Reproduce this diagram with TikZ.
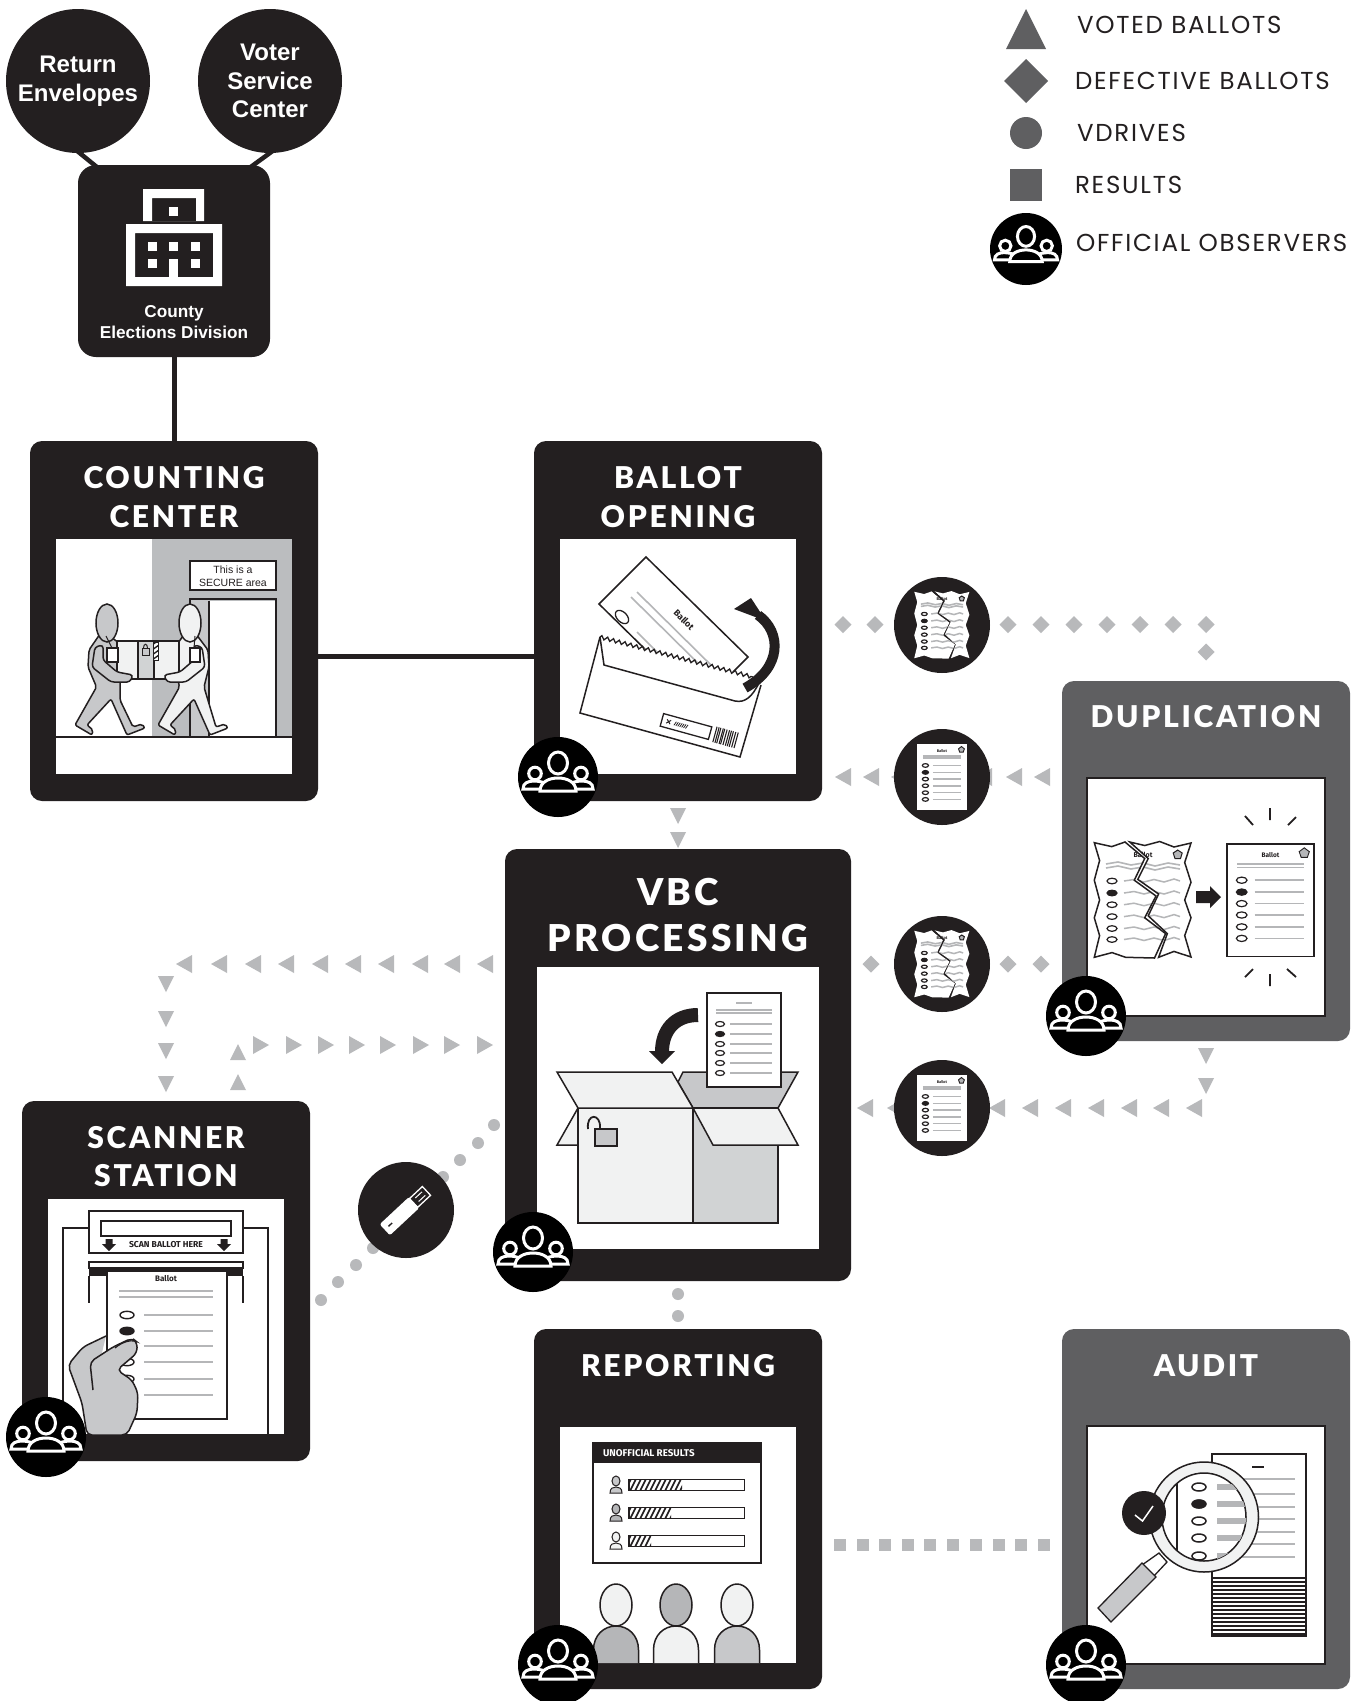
\documentclass[tikz,border=0pt]{standalone}
\usepackage{fontspec}
\usetikzlibrary{decorations.pathmorphing}
\setmainfont{Liberation Sans}
\newfontfamily\titlef[LetterSpace=9,BoldFont={Lato Black}]{Lato}
\newfontfamily\legf[LetterSpace=7.2]{Poppins}
\newfontfamily\firaf{Fira Sans}
\definecolor{ink}{HTML}{231F20}
\definecolor{slate}{HTML}{5F5F61}
\definecolor{mkgrey}{HTML}{B8B9BB}
\definecolor{gA}{HTML}{F1F2F2}
\definecolor{gB}{HTML}{C7C8CA}
\definecolor{gC}{HTML}{D1D3D4}
\definecolor{gD}{HTML}{B5B6B8}
\definecolor{gE}{HTML}{BBBDBF}
\def\tornL{(-48.7,-57.3) -- (-31.3,-53.4) -- (-18,-58) -- (1.7,-41.5) -- (-8.7,-19.8) -- (13,-4) -- (1.7,17.8) -- (22.6,33.6) -- (11.5,58) -- (-17.4,57.3) -- (-31,52.6) -- (-48.7,57.3) -- (-43.4,35.6) -- (-48.7,17.8) -- (-43.4,0) -- (-48.7,-19.8) -- (-43.4,-39.5) -- cycle}
\def\tornR{(-13.2,-58) -- (1.7,-54.5) -- (16.7,-58.5) -- (31,-53) -- (48,-57) -- (41.7,-37.5) -- (48,-17.8) -- (41.7,0) -- (48,17.8) -- (41.7,35.6) -- (48,57) -- (31,51.4) -- (15.6,57.3) -- (24.3,33.6) -- (5.2,15.8) -- (15.6,-6) -- (-5.2,-20.6) -- (5.2,-41.5) -- cycle}
\def\tornword{\node[font=\firaf\bfseries\fontsize{7}{7}\selectfont,text=ink,transform shape] (tornword) at (0,-45) {Ballot};}
\def\torngap{(-18,-58) -- (1.7,-41.5) -- (5.2,-41.5) -- (-13.2,-58) -- cycle}
\def\tornstuff{%
  \draw[gD,line width=1.6] (-37,-36) -- (-25,-38) -- (-12,-35) -- (0,-37) -- (12,-34) -- (25,-37) -- (37,-35);
  \draw[gD,line width=1.6] (-37,-32) -- (-25,-34) -- (-12,-31) -- (0,-33) -- (12,-30) -- (25,-33) -- (37,-31);
  \foreach \oy in {-19,-7,4.7,16.6,28.5,39.5} {
    \draw[gD,line width=1.5] (-19,\oy) -- (-9,{\oy-1.5}) -- (1,{\oy+1}) -- (11,{\oy-1.5}) -- (21,{\oy+1}) -- (31,{\oy-2}) -- (37,\oy);
    \draw[ink,line width=1.2,fill=white] (-31,\oy) ellipse [x radius=5,y radius=2.8];
  }
  \fill[ink] (-31,-7) ellipse [x radius=5,y radius=2.8];
  \draw[ink,line width=1,fill=gD] (34.7,-50) -- (39.2,-47) -- (37.5,-41.5) -- (32,-41.5) -- (30.2,-47) -- cycle;
}
\def\balstuff{%
  \draw[gD,line width=1.6] (-28,-30) -- (28,-30) (-28,-27) -- (28,-27);
  \foreach \oy in {-16.5,-6.6,3,12.5,22.4,32} {
    \draw[gD,line width=1.5] (-13.5,\oy) -- (28,\oy);
    \draw[ink,line width=1.2,fill=white] (-24.4,\oy) ellipse [x radius=4.5,y radius=2.6];
  }
  \fill[ink] (-24.4,-6.6) ellipse [x radius=4.5,y radius=2.6];
}
\tikzset{
  x=1pt,y=-1pt,
  every node/.style={inner sep=0pt,outer sep=0pt},
  blackpanel/.style={fill=ink,rounded corners=12pt},
  greypanel/.style={fill=slate,rounded corners=12pt},
  imgbox/.style={fill=white},
  imgline/.style={fill=white,draw=ink,line width=2.2},
  title/.style={text=white,font=\titlef\bfseries\fontsize{30}{30}\selectfont},
  bigtitle/.style={text=white,font=\titlef\bfseries\fontsize{37}{37}\selectfont},
  legtext/.style={anchor=west,text=ink,font=\legf\fontsize{24.5}{24.5}\selectfont},
  wire/.style={draw=ink,line width=5},
  disc/.style={circle,fill=ink,minimum size=96pt},
  bigdisc/.style={circle,fill=ink,minimum size=144pt,text=white,align=center,font=\bfseries\fontsize{24}{28.5}\selectfont},
  obs/.style={circle,fill=black,minimum size=80pt},
  obsleg/.style={circle,fill=black,minimum size=72pt},
  hl/.style={draw=ink,line width=1.5},
  obsicon/.pic={
    \draw[white,line width=3] (0,-14) ellipse [x radius=9.5,y radius=11];
    \draw[white,line width=3] (-23,-3.5) circle [radius=6.3];
    \draw[white,line width=3] (23,-3.5) circle [radius=6.3];
    \draw[white,line width=3] (-17,12) -- (-35,12) .. controls (-35,6) and (-30,4) .. (-24,4) .. controls (-20,4) and (-16,5) .. (-13,6);
    \draw[white,line width=3] (17,12) -- (35,12) .. controls (35,6) and (30,4) .. (24,4) .. controls (20,4) and (16,5) .. (13,6);
    \draw[white,line width=3,fill=black] (-18,14) .. controls (-18,5) and (-9,1) .. (0,1) .. controls (9,1) and (18,5) .. (18,14) -- cycle;
  },
  mkleft/.pic={\fill[mkgrey] (-8,0) -- (8,-9) -- (8,9) -- cycle;},
  mkright/.pic={\fill[mkgrey] (8,0) -- (-8,-9) -- (-8,9) -- cycle;},
  mkdown/.pic={\fill[mkgrey] (0,8) -- (-8,-8) -- (8,-8) -- cycle;},
  mkup/.pic={\fill[mkgrey] (0,-8) -- (-8,8) -- (8,8) -- cycle;},
  mkdiamond/.pic={\fill[mkgrey] (-8.5,0) -- (0,-8.5) -- (8.5,0) -- (0,8.5) -- cycle;},
  mkdot/.pic={\fill[mkgrey] (0,0) circle [radius=6];},
  mksquare/.pic={\fill[mkgrey] (-6.2,-6) rectangle (6.2,6);},
  plainballot/.pic={
    \fill[white] (-37,-47) rectangle (37,47);
    \balstuff
    \node[font=\firaf\bfseries\fontsize{5.5}{5.5}\selectfont,text=ink,transform shape] (balword) at (0,-37.5) {Ballot};
    \draw[ink,line width=.9,fill=gD] (28.6,-43.5) -- (32.9,-40.3) -- (31.2,-35.5) -- (26,-35.5) -- (24.3,-40.3) -- cycle;
  },
  tornplain/.pic={
    \fill[white] \tornL; \fill[white] \tornR;
    \begin{scope}\clip \tornL; \tornstuff \end{scope}
    \begin{scope}\clip \tornR; \tornstuff \end{scope}
    \tornword
    \fill[ink] \torngap;
  },
  tornlined/.pic={
    \fill[white] \tornL; \fill[white] \tornR;
    \begin{scope}\clip \tornL; \tornstuff \end{scope}
    \begin{scope}\clip \tornR; \tornstuff \end{scope}
    \tornword
    \fill[white] \torngap;
    \draw[ink,line width=1.5,line join=miter] \tornL;
    \draw[ink,line width=1.5,line join=miter] \tornR;
  },
}
\begin{document}
\begin{tikzpicture}
\useasboundingbox (0,0) rectangle (1365,1701);
\fill[white] (0,0) rectangle (1365,1701);

% ---------- panels ----------
\node[blackpanel,minimum width=288pt,minimum height=360pt] (counting) at (174,621) {};
\node[blackpanel,minimum width=288pt,minimum height=360pt] (ballotopen) at (678,621) {};
\node[greypanel,minimum width=288pt,minimum height=360pt] (duplication) at (1206,861) {};
\node[blackpanel,minimum width=346pt,minimum height=432pt] (vbc) at (678,1065) {};
\node[blackpanel,minimum width=288pt,minimum height=360pt] (scanner) at (166,1281) {};
\node[blackpanel,minimum width=288pt,minimum height=360pt] (reporting) at (678,1509) {};
\node[greypanel,minimum width=288pt,minimum height=360pt] (audit) at (1206,1509) {};

% ---------- top part ----------
\node[bigdisc,minimum size=144pt] (returnenv) at (78,81) {Return\\Envelopes};
\node[bigdisc,minimum size=144pt] (votersc) at (270,81) {Voter\\Service\\Center};
\node[fill=ink,rounded corners=18pt,minimum width=192pt,minimum height=192pt] (county) at (174,261) {};
\draw[draw=ink,line width=4.5] ([xshift=-2pt,yshift=3pt]returnenv.south) -- ([xshift=25pt,yshift=-7pt]county.north west);
\draw[draw=ink,line width=4.5] ([xshift=4pt,yshift=3pt]votersc.south) -- ([xshift=-24pt,yshift=-5.4pt]county.north east);
\draw[wire] (county.south) -- (counting.north);
% building
\fill[white,even odd rule] (143,189) rectangle (204,221) (152,198) rectangle (196,221);
\fill[white] (169,207) rectangle (178,216);
\fill[white,even odd rule] (126,224) rectangle (222,286) (135,233) rectangle (213,277);
\foreach \wx in {148,169,191} \fill[white] (\wx,242) rectangle ++(9,9);
\foreach \wx in {148,191} \fill[white] (\wx,259) rectangle ++(9,9);
\fill[white] (169,259) rectangle (178,286);
\node[text=white,align=center,font=\bfseries\fontsize{17.2}{20.5}\selectfont] (countylabel) at (174,322) {County\\Elections Division};

% ---------- connectors ----------
\node[imgbox,minimum width=236pt,minimum height=235pt] (countimg) at (174,656.5) {};
\node[imgbox,minimum width=236pt,minimum height=235pt] (openimg) at (678,656.5) {};
\draw[wire] (countimg -| counting.east) -- (openimg -| ballotopen.west);

% ---------- marker chains ----------
\foreach \mx in {843,875,1008,1041,1074,1107,1140,1173,1206} \pic at (\mx,624.5) {mkdiamond};
\pic at (1206,652) {mkdiamond};
\foreach \mx in {843,871,899,984,1014,1042} \pic at (\mx,777) {mkleft};
\foreach \mx in {871,1008,1041} \pic at (\mx,964) {mkdiamond};
\foreach \my in {1056,1086} \pic at (1206,\my) {mkdown};
\foreach \mx in {865,895,997,1030,1063,1096,1129,1161,1194} \pic at (\mx,1108) {mkleft};
\foreach \my in {816,840} \pic at (678,\my) {mkdown};
\foreach \mx in {184,219,253,286,320,353,386,420,452,485} \pic at (\mx,964) {mkleft};
\foreach \my in {984,1019,1051,1084} \pic at (166,\my) {mkdown};
\foreach \my in {1052,1082} \pic at (238,\my) {mkup};
\foreach \mx in {261,294,326,357,388,421,452,485} \pic at (\mx,1045) {mkright};
\pic at (321,1300) {mkdot}; \pic at (338,1282) {mkdot}; \pic at (356,1265) {mkdot}; \pic at (373,1248) {mkdot};
\pic at (443,1177) {mkdot}; \pic at (460,1160) {mkdot}; \pic at (478,1143) {mkdot}; \pic at (494,1125) {mkdot};
\foreach \my in {1294,1316} \pic at (678,\my) {mkdot};
\foreach \mx in {840,863,885,908,930,953,976,999,1021,1044} \pic at (\mx,1545) {mksquare};

% ---------- titles ----------
\node[title] (t1) at (174,478) {COUNTING};
\node[title] (t2) at (174,516.5) {CENTER};
\node[title] (t3) at (678,478) {BALLOT};
\node[title] (t4) at (678,516.5) {OPENING};
\node[title] (t5) at (1206,717) {DUPLICATION};
\node[bigtitle] (t6) at (678,892) {VBC};
\node[bigtitle] (t7) at (678,938) {PROCESSING};
\node[title] (t8) at (166,1138) {SCANNER};
\node[title] (t9) at (166,1176) {STATION};
\node[title] (t10) at (678,1366) {REPORTING};
\node[title] (t11) at (1206,1366) {AUDIT};

% ---------- counting center illustration ----------
\fill[gE] (152,539) rectangle (292,737);
\fill[gB] (190,599) rectangle (209,737);
\fill[white] (209,601) rectangle (275,737);
\draw[ink,line width=1.3] (276,737) -- (276,599) -- (190,599) -- (190,737);
\draw[ink,line width=1.3] (209,601) -- (209,737);
\node[draw=ink,line width=1.3,fill=white,minimum width=86pt,minimum height=29pt] (sign) at (233,575.5) {};
\node[text=ink,font=\fontsize{10.5}{12.5}\selectfont,align=center] (signtext) at (233,576) {This is a\\SECURE area};
\draw[ink,line width=2.2] (56,737) -- (292,737);
% left person
\draw[hl,fill=gB,rounded corners=2pt] (100,634) -- (89,650) -- (88,667) -- (96.5,687) -- (75,725) -- (92,735) -- (93,730) -- (87,725) -- (111,699) -- (127,735) -- (145,728) -- (142,724) -- (133,727) -- (120,700) -- (120,680) -- (119,643) -- (111,637) -- cycle;
\draw[hl,fill=gB] (107,623) ellipse [x radius=11,y radius=19];
% right person
\draw[hl,fill=gA,rounded corners=2pt] (183,636) -- (196,634) -- (208,650) -- (209,667) -- (204,687) -- (216,727) -- (225,724) -- (228,728) -- (210,735) -- (194,699) -- (170,725) -- (176,730) -- (175,735) -- (158,725) -- (179.5,687) -- (178,680) -- (178,643) -- cycle;
\draw[hl,fill=gA] (190,623) ellipse [x radius=11,y radius=19];
% box
\draw[hl,fill=gA] (117,641) rectangle (179,679);
\draw[hl,fill=gC] (138,641) rectangle (154,679);
\draw[ink,line width=1,fill=gB] (142,648) rectangle (149,655);
\draw[ink,line width=1] (143.5,648) .. controls (143.5,643) and (147.5,643) .. (147.5,648);
\fill[white] (153,642) rectangle (158,660);
\begin{scope}
 \clip (153,642) rectangle (158,660);
 \foreach \hy in {640,645,650,655,660,665} \draw[ink,line width=1.4] (152,\hy) -- (159,{\hy-5});
\end{scope}
\draw[ink,line width=1] (153,642) rectangle (158,660);
% arms
\draw[hl,fill=gB,rounded corners=3pt] (95,647) -- (92,667) -- (111,682) -- (130,682) -- (133,675) -- (117,672) -- (103,660) -- (103,645) -- cycle;
\draw[hl,fill=gA,rounded corners=3pt] (202,647) -- (205,667) -- (186,682) -- (167,682) -- (164,675) -- (180,672) -- (194,660) -- (194,645) -- cycle;
\draw[ink,line width=1] (106,636) -- (112,648) (195,636) -- (194,648);
\draw[ink,line width=1.2,fill=white] (107,648) rectangle (118,662);
\draw[ink,line width=1.2,fill=white] (190,648) rectangle (200,662);

% ---------- ballot opening illustration ----------
\draw[ink,line width=1.5,fill=white] (646,557) -- (748,657) -- (701,704) -- (599,604) -- cycle;
\draw[gD,line width=1.6] (631,597) -- (710,675) (637,592) -- (716,670) (637,632) -- (669,664);
\node[rotate=-45,font=\firaf\bfseries\fontsize{9}{9}\selectfont,text=ink] (openword) at (684,620) {Ballot};
\draw[ink,line width=1.3,rotate around={-45:(622,617)}] (622,617) ellipse [x radius=8,y radius=5];
\fill[white] (600,637) -- (753,677) -- (761,685) -- (740,757) -- (580,713) -- cycle;
\draw[ink,line width=1.5] (600,637) -- (580,713) -- (740,757) -- (761,685);
\draw[ink,line width=1.5] (600,637) -- (604,665) -- (735,701) .. controls (745,703) and (752,697) .. (759,683);
\draw[ink,line width=1.3,decorate,decoration={zigzag,segment length=6pt,amplitude=1.8pt}] (600,637) -- (753,677);
\draw[ink,line width=10] (745,688) .. controls (782,668) and (782,632) .. (758,615);
\fill[ink] (751,598) -- (734,609) -- (766,621) -- cycle;
\begin{scope}[shift={(686,726.5)},rotate=-15.4]
 \draw[ink,line width=1.3,fill=white] (-25,-6.5) rectangle (25,6.5);
 \draw[ink,line width=1] (-20,-2) -- (-16,2) (-20,2) -- (-16,-2);
 \foreach \sx in {-12,-10,-8,-6,-4,-2,0} \draw[ink,line width=.8] (\sx,2) -- ({\sx+1.5},-2);
 \foreach \sx in {30,32.2,34,36.5,38,40.5,43,45,47,49.5,52} \draw[ink,line width=1.1] (\sx,-8) -- (\sx,8);
\end{scope}

% ---------- duplication illustration ----------
\node[imgline,minimum width=238pt,minimum height=238pt] (dupimg) at (1206,897) {};
\pic at (1143,900) {tornlined};
\fill[ink] (1196,891) -- (1210,891) -- (1210,886) -- (1221,897) -- (1210,908) -- (1210,903) -- (1196,903) -- cycle;
\pic[xscale=1.18,yscale=1.2] at (1270.5,900) {plainballot};
\draw[ink,line width=1.8] (1226.9,843.6) rectangle (1314.1,956.4);
\draw[ink,line width=1.8] (1270,808) -- (1270,820) (1245,816) -- (1253,825) (1296,817) -- (1288,825);
\draw[ink,line width=1.8] (1270,974) -- (1270,986) (1253,969) -- (1245,977) (1287,969) -- (1296,977);

% ---------- vbc illustration ----------
\node[imgbox,minimum width=282pt,minimum height=282pt] (vbcimg) at (678,1108) {};
\draw[ink,line width=1.5,fill=gB] (678,1082) -- (683,1072) -- (798,1072) -- (778,1108) -- (693,1108) -- cycle;
\begin{scope}[shift={(744,1040)}]
 \draw[ink,line width=1.8,fill=white] (-37,-47) rectangle (37,47);
 \draw[gD,line width=1.6] (-8,-37) -- (8,-37) (-28,-30) -- (28,-30) (-28,-27) -- (28,-27);
 \foreach \oy in {-16,-6,4,13,23,33} {
  \draw[gD,line width=1.6] (-14,\oy) -- (28,\oy);
  \draw[ink,line width=1.2,fill=white] (-24,\oy) ellipse [x radius=4.5,y radius=2.5];
 }
 \fill[ink] (-24,-6) ellipse [x radius=4.5,y radius=2.5];
\end{scope}
\draw[hl,fill=gA] (578,1108) -- (557,1145) -- (578,1145) -- cycle;
\draw[hl,fill=gA] (578,1108) rectangle (693,1223);
\draw[hl,fill=gC] (693,1108) rectangle (778,1223);
\draw[hl,fill=gA] (557,1072) -- (672,1072) -- (693,1108) -- (578,1108) -- cycle;
\draw[hl,fill=gA] (693,1108) -- (778,1108) -- (798,1145) -- (713,1145) -- cycle;
\draw[ink,line width=1.8,fill=gB] (595,1129) rectangle (617,1146);
\draw[ink,line width=1.8] (588,1129) .. controls (586,1113) and (601,1113) .. (600,1128);
\draw[ink,line width=14] (698,1015) .. controls (675,1015) and (662,1030) .. (662,1052);
\fill[ink] (662,1064) -- (649,1051) -- (675,1051) -- cycle;

% ---------- scanner illustration ----------
\node[imgbox,minimum width=236pt,minimum height=235pt] (scanimg) at (166,1316.5) {};
\draw[ink,line width=1.5] (63,1434) -- (63,1228) -- (268,1228) -- (268,1434);
\draw[ink,line width=1.5,fill=white] (89,1211) rectangle (243,1253);
\draw[ink,line width=2,fill=white] (101,1221) rectangle (231,1236);
\foreach \ax in {109,224} \fill[ink] (\ax-3.5,1239) -- (\ax+3.5,1239) -- (\ax+3.5,1244) -- (\ax+7,1244) -- (\ax,1251) -- (\ax-7,1244) -- (\ax-3.5,1244) -- cycle;
\node[font=\firaf\bfseries\fontsize{8.6}{8.6}\selectfont,text=ink] (scantext) at (166,1245) {SCAN BALLOT HERE};
\draw[ink,line width=1.5,fill=white] (89,1262) rectangle (243,1268);
\fill[ink] (89,1268) rectangle (243,1276);
\draw[ink,line width=1.5] (89,1276) -- (89,1303) (243,1276) -- (243,1303);
\draw[ink,line width=1.5,fill=white] (107,1271) rectangle (227,1419);
\node[font=\firaf\bfseries\fontsize{8}{8}\selectfont,text=ink] (scanword) at (166,1279) {Ballot};
\draw[gD,line width=2] (119,1291) -- (213,1291) (119,1297) -- (213,1297);
\foreach \oy in {1315,1331,1346,1362,1379,1395} {
  \draw[gD,line width=2] (144,\oy) -- (213,\oy);
  \draw[ink,line width=1.4,fill=white] (127,\oy) ellipse [x radius=7,y radius=3.7];
}
\fill[ink] (127,1331) ellipse [x radius=7,y radius=3.7];
\draw[ink,line width=1.5,fill=gB,rounded corners=5pt] (106,1336) -- (83,1347) -- (68,1365) -- (82,1403) -- (87,1435) -- (127,1435) -- (137,1413) -- (138,1393) -- (132,1380) -- (117,1370) -- (137,1353) -- (137,1342) -- (132,1338) -- (113,1347) -- (90,1362) -- (93,1390);
\draw[ink,line width=1.2] (115,1348) .. controls (122,1342) and (130,1340) .. (135,1341);

% ---------- reporting illustration ----------
\node[imgbox,minimum width=236pt,minimum height=236pt] (repimg) at (678,1545) {};
\draw[ink,line width=1.6,fill=white] (593,1443) rectangle (761,1563);
\fill[ink] (593,1443) rectangle (761,1463);
\node[anchor=west,text=white,font=\firaf\bfseries\fontsize{9.8}{9.8}\selectfont] (resulthead) at (603,1453) {UNOFFICIAL RESULTS};
\foreach \ry/\rx/\rc in {1485/682/gB,1513/671/gD,1541/651/gA} {
  \draw[ink,line width=1,fill=\rc] (616,\ry-4) ellipse [x radius=4,y radius=5];
  \draw[ink,line width=1,fill=\rc] (610,\ry+8) .. controls (610,\ry+3) and (613,\ry+2) .. (616,\ry+2) .. controls (619,\ry+2) and (622,\ry+3) .. (622,\ry+8) -- cycle;
  \begin{scope}
   \clip (629,\ry-5) rectangle (\rx,\ry+5);
   \foreach \hx in {625,630,...,690} \draw[ink,line width=1.6] (\hx,\ry+6) -- (\hx+6,\ry-6);
  \end{scope}
  \draw[ink,line width=1.8] (629,\ry-5.5) rectangle (744.5,\ry+5.5);
}
\foreach \px/\hc/\bc in {616/gA/gD,676/gD/gA,737/gA/gB} {
  \draw[hl,fill=\bc] (\px-22.5,1663) -- (\px-22.5,1650) .. controls (\px-22.5,1635) and (\px-12,1626) .. (\px,1626) .. controls (\px+12,1626) and (\px+22.5,1635) .. (\px+22.5,1650) -- (\px+22.5,1663);
  \draw[hl,fill=\hc] (\px,1605) ellipse [x radius=16,y radius=21];
}

% ---------- audit illustration ----------
\node[imgline,minimum width=238pt,minimum height=238pt] (audimg) at (1206,1545) {};
\draw[ink,line width=1.5,fill=white] (1212,1454) rectangle (1306,1636);
\draw[ink,line width=2.2] (1252,1467) -- (1264,1467);
\foreach \ly in {1479,1494,1507,1519,1532,1544,1557} \draw[gD,line width=2] (1217,\ly) -- (1295,\ly);
\foreach \ly in {1578,1582,...,1634} \draw[ink,line width=1.7] (1212,\ly) -- (1306,\ly);
\draw[ink,line width=1.3,fill=white] (1159,1553) -- (1167,1562) -- (1153,1577) -- (1142,1565) -- cycle;
\draw[ink,line width=1.3,fill=gB] (1142,1563) -- (1156,1577) -- (1111,1622) -- (1098,1608) -- cycle;
\draw[ink,line width=1.5,fill=gA] (1204,1517) ellipse [x radius=54.5,y radius=55];
\draw[ink,line width=1.5,fill=white] (1204,1517) ellipse [x radius=42,y radius=44];
\begin{scope}
 \clip (1204,1517) ellipse [x radius=42,y radius=44];
 \draw[ink,line width=1.3] (1177,1470) -- (1177,1565);
 \foreach \oy in {1487,1504,1521,1538,1556} {
   \fill[gD] (1217,\oy-3) rectangle (1246,\oy+3);
   \draw[ink,line width=1.5,fill=white] (1199,\oy) ellipse [x radius=7,y radius=4];
 }
 \fill[ink] (1199,1504) ellipse [x radius=7,y radius=4.6];
\end{scope}
\node[circle,fill=ink,minimum size=44pt] (auditcheck) at (1144,1513) {};
\draw[white,line width=1.5] (1135,1515) -- (1142.5,1521) -- (1153,1506);

% ---------- round badges ----------
\node[disc] (tornA) at (942,625) {};
\pic[xscale=.57,yscale=.58] at (942,625) {tornplain};
\node[disc] (balA) at (942,777) {};
\pic[xscale=.68,yscale=.7] at (942,777) {plainballot};
\node[disc] (tornB) at (942,964) {};
\pic[xscale=.57,yscale=.58] at (942,964) {tornplain};
\node[disc] (balB) at (942,1108) {};
\pic[xscale=.68,yscale=.7] at (942,1108) {plainballot};
\node[disc] (usb) at (406,1210) {};
\begin{scope}[shift={(406,1210)},rotate=43]
 \draw[white,line width=1.3,fill=ink] (10,-6) rectangle (28,6);
 \draw[white,line width=1] (15,-2.4) -- (24,-2.4) (15,2.4) -- (24,2.4);
 \fill[white,rounded corners=2pt] (-29,-7.5) rectangle (11,7.5);
 \fill[ink] (-24,-.7) rectangle (-19,.7);
\end{scope}

\foreach \oname/\ox/\oy in {obsA/558/777,obsB/1086/1016,obsC/533/1252,obsD/46/1437,obsE/558/1665,obsF/1086/1665} {
  \node[obs] (\oname) at (\ox,\oy) {};
  \pic at (\oname) {obsicon};
}

% ---------- legend ----------
\fill[slate] (1026,9) -- (1046,49) -- (1006,49) -- cycle;
\fill[slate] (1026,59) -- (1048,81) -- (1026,103) -- (1004,81) -- cycle;
\fill[slate] (1026,133) circle [radius=16];
\fill[slate] (1010,169) rectangle (1042,201);
\node[obsleg] (obsleg) at (1026,249) {};
\pic[scale=.9] at (obsleg) {obsicon};
\node[legtext] (l1) at (1077,25) {VOTED BALLOTS};
\node[legtext] (l2) at (1075,81) {DEFECTIVE BALLOTS};
\node[legtext] (l3) at (1077,133) {VDRIVES};
\node[legtext] (l4) at (1075,185) {RESULTS};
\node[legtext] (l5) at (1076,243) {OFFICIAL OBSERVERS};
\end{tikzpicture}
\end{document}
